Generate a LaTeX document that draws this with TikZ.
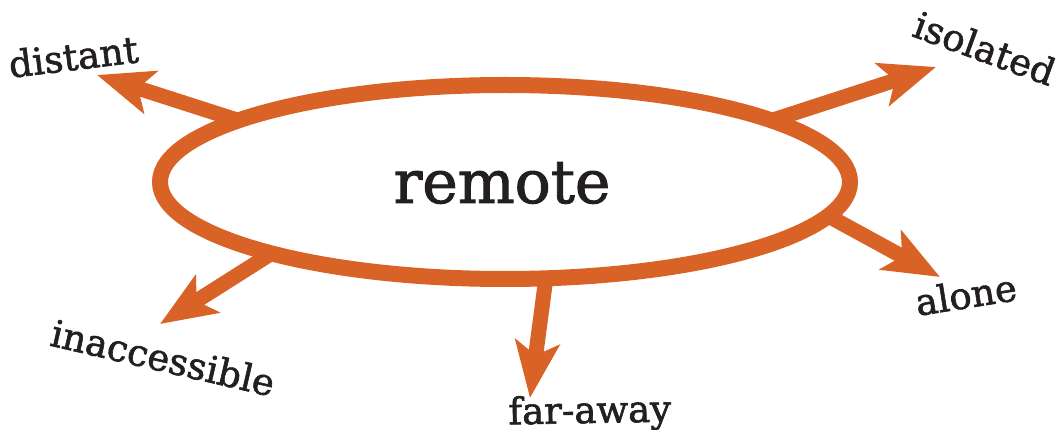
\documentclass[tikz,border=0pt]{standalone}
\usepackage{fontspec}
\newfontfamily\slab[FakeBold=1.6]{DejaVu Serif}
\usetikzlibrary{arrows.meta,shapes.geometric,backgrounds}
\definecolor{arr}{RGB}{217,98,38}
\definecolor{ink}{RGB}{35,31,32}
\begin{document}
\begin{tikzpicture}[x=1pt,y=-1pt,
  lab/.style={anchor=base,inner sep=0pt,text=ink,font=\slab\fontsize{37}{42}\selectfont},
  ray/.style={draw=arr,line width=15pt,-{Stealth[length=56pt,width=44pt,inset=13pt]}},
  ring/.style={ellipse,draw=arr,line width=16pt,minimum width=690pt,minimum height=194pt,inner sep=0pt,outer sep=0pt}]
\useasboundingbox (0,0) rectangle (1061,430);
\node[ring] (e) at (505,182) {};
\coordinate (tD) at (97,75);
\coordinate (tI) at (936,67);
\coordinate (tA) at (940,277);
\coordinate (tN) at (160,324);
\coordinate (tF) at (530,398);
\begin{scope}[on background layer]
\draw[ray] (e.167) -- (tD);
\draw[ray] (e.13) -- (tI);
\draw[ray] (e.-6) -- (tA);
\draw[ray] (e.197) -- (tN);
\draw[ray] (e.293) -- (tF);
\end{scope}
\node[lab,font=\slab\fontsize{60}{66}\selectfont] (r) at (502,203) {remote};
\node[lab,rotate=7] (d) at (75,70) {distant};
\node[lab,rotate=-20] (i) at (980,61) {isolated};
\node[lab,rotate=9] (a) at (968,308) {alone};
\node[lab,rotate=-13] (n) at (160,371) {inaccessible};
\node[lab,rotate=1] (f) at (590,423) {far-away};
\end{tikzpicture}
\end{document}
